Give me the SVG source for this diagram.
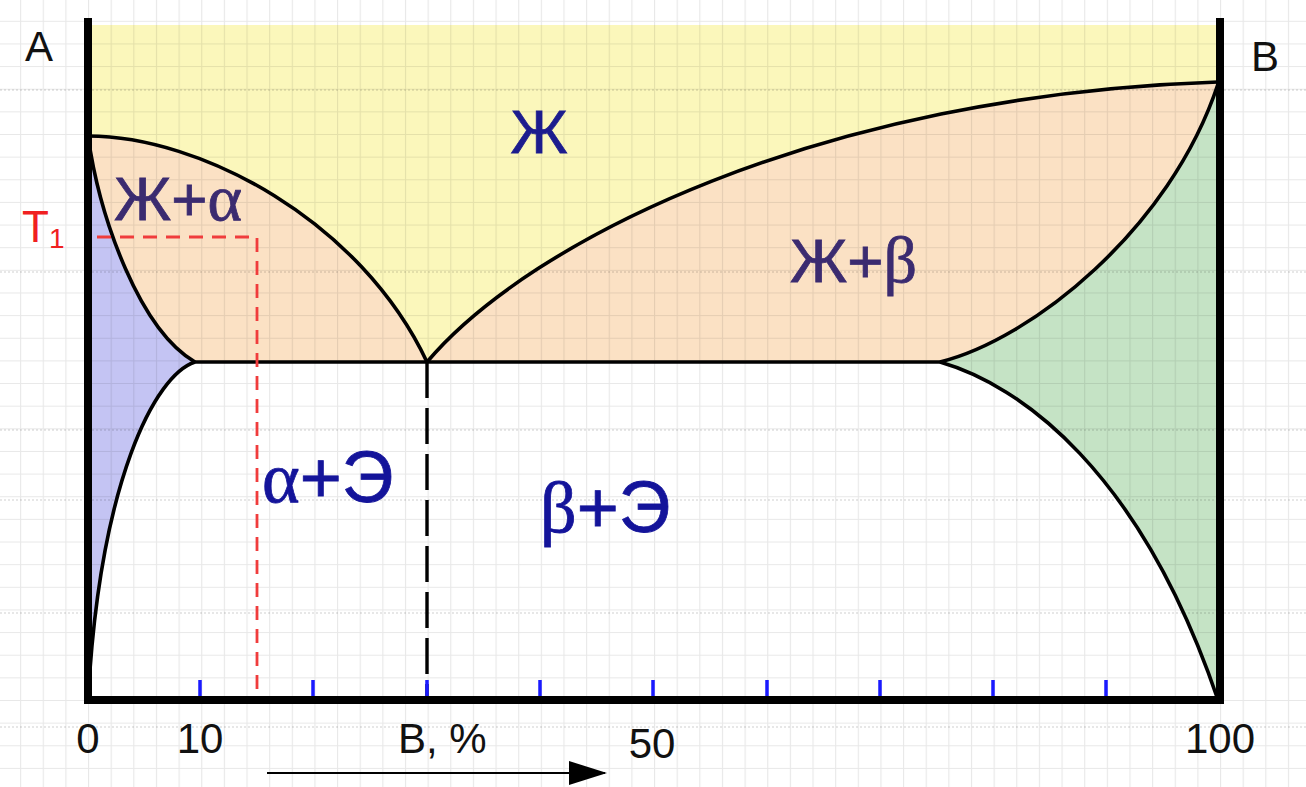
<svg xmlns="http://www.w3.org/2000/svg" width="1306" height="787" viewBox="0 0 1306 787">
<defs>
<pattern id="grid" patternUnits="userSpaceOnUse" x="20.08" y="20.8" width="22.64" height="22.64">
<path d="M0.5,0 V22.64 M0,0.5 H22.64" fill="none" stroke="#000" stroke-opacity="0.09" stroke-width="1.2"/>
</pattern>
<marker id="arr" viewBox="0 0 38 24" refX="36" refY="12" markerWidth="38" markerHeight="24" markerUnits="userSpaceOnUse" orient="auto">
<path d="M0,0 L38,12 L0,24 Z" fill="#000"/>
</marker>
<style>
.curve{fill:none;stroke:#000;stroke-width:3.6;stroke-linejoin:round}
.axis{fill:none;stroke:#000;stroke-width:8;stroke-linecap:square}
.tick{stroke:#1a1aff;stroke-width:3.5}
.ax{font-family:"Liberation Sans",Arial,sans-serif;font-size:42px;fill:#111}
.big{font-family:"Liberation Sans",Arial,sans-serif;stroke-width:0.8}
.gr{font-family:"Liberation Serif","Times New Roman",serif}
.dots{stroke:#000;stroke-opacity:0.13;stroke-width:1.3;stroke-dasharray:2 2}
</style>
</defs>
<rect width="1306" height="787" fill="#fff"/>
<g id="regions">
<rect id="liquid" x="88" y="25" width="1132" height="337" fill="#fbf7bb"/>
<path id="l-alpha" d="M88,136 C200,136 360,220 427,362 L195,362 C140,330 100,220 88,136 Z" fill="#fbe1c4"/>
<path id="l-beta" d="M427,362 C530,240 820,95 1218,82 L1218,84 C1170,230 1030,340 940,362 Z" fill="#fbe1c4"/>
<path id="alpha" d="M88,136 C100,220 140,330 195,362 C155,375 100,480 88,700 Z" fill="#c4c4f3"/>
<path id="beta" d="M940,362 C1030,340 1170,230 1218,84 L1218,700 C1140,470 1020,385 940,362 Z" fill="#c5e3c5"/>
</g>
<g id="gridlayer">
<rect width="1306" height="787" fill="url(#grid)"/>
<path class="dots" d="M0,90 H1306 M0,272 H1306 M0,430 H1306 M0,500 H1306 M0,613 H1306 M0,727 H1306"/>
</g>
<g id="connectors">
<path class="curve" d="M88,136 C200,136 360,220 427,362"/>
<path class="curve" d="M88,136 C100,220 140,330 195,362"/>
<path class="curve" d="M195,362 C155,375 100,480 88,700"/>
<path class="curve" d="M427,362 C530,240 820,95 1218,82"/>
<path class="curve" d="M940,362 C1030,340 1170,230 1218,84"/>
<path class="curve" d="M940,362 C1020,385 1140,470 1218,700"/>
<path class="curve" d="M195,362 H940"/>
<path d="M427,362 V700" fill="none" stroke="#000" stroke-width="3.4" stroke-dasharray="36 10"/>
<path d="M97,237 H257 V700" fill="none" stroke="#f03c3c" stroke-width="2.8" stroke-dasharray="14 9"/>
<path class="tick" d="M200,680 V700 M313,680 V700 M427,680 V700 M540,680 V700 M653,680 V700 M767,680 V700 M880,680 V700 M993,680 V700 M1106,680 V700"/>
<path class="axis" d="M88,22 V700 H1220 V22"/>
<path d="M267,773 H605" fill="none" stroke="#000" stroke-width="2" marker-end="url(#arr)"/>
</g>
<g id="labels">
<text class="ax" x="25" y="61">А</text>
<text class="ax" x="1251" y="71">В</text>
<text x="22" y="242" font-family="Liberation Sans,Arial,sans-serif" font-size="44" fill="#f02020">T<tspan font-size="28" dy="6">1</tspan></text>
<text class="ax" x="88" y="753" text-anchor="middle">0</text>
<text class="ax" x="200" y="753" text-anchor="middle">10</text>
<text class="ax" x="398" y="753">В, %</text>
<text class="ax" x="652" y="758" text-anchor="middle">50</text>
<text class="ax" x="1220" y="753" text-anchor="middle">100</text>
<text class="big" x="539" y="153" font-size="62" text-anchor="middle" fill="#1c1c8e" stroke="#1c1c8e">Ж</text>
<text class="big" x="114" y="220" font-size="62" fill="#3b2b70" stroke="#3b2b70">Ж+<tspan class="gr" font-size="66">α</tspan></text>
<text class="big" x="790" y="282" font-size="62" fill="#3b2b70" stroke="#3b2b70">Ж+<tspan class="gr" font-size="66">β</tspan></text>
<text class="big" x="262" y="502" font-size="72" fill="#14149a" stroke="#14149a"><tspan class="gr">α</tspan>+Э</text>
<text class="big" x="540" y="532" font-size="72" fill="#14149a" stroke="#14149a"><tspan class="gr">β</tspan>+Э</text>
</g>
</svg>
